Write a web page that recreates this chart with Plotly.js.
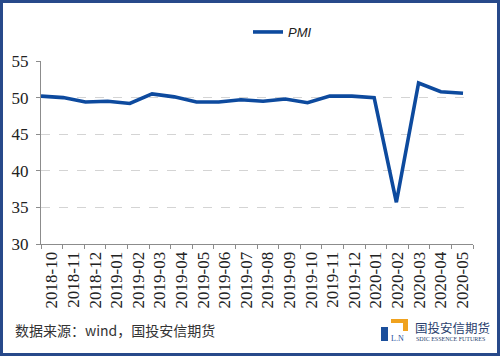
<!DOCTYPE html>
<html>
<head>
<meta charset="utf-8">
<script src="https://cdn.plot.ly/plotly-3.0.1.min.js"></script>
<style>html,body{margin:0;padding:0;background:#fff;}#chart{width:500px;height:356px;}</style>
</head>
<body>
<div id="chart"></div>
<script>
var months = ['2018-10','2018-11','2018-12','2019-01','2019-02','2019-03','2019-04','2019-05','2019-06','2019-07','2019-08','2019-09','2019-10','2019-11','2019-12','2020-01','2020-02','2020-03','2020-04','2020-05'];
var pmi = [50.2,50.0,49.4,49.5,49.2,50.5,50.1,49.4,49.4,49.7,49.5,49.8,49.3,50.2,50.2,50.0,35.7,52.0,50.8,50.6];
var yTicks = [30,35,40,45,50,55];
var seriesName = 'PMI';
var sourceText = '数据来源：wind，国投安信期货';
var logoCn = '国投安信期货';
var logoEn = 'SDIC ESSENCE FUTURES';

var L = 41, R = 473, T = 61, B = 244;
function px(x){ return (x - L) / (R - L); }
function py(y){ return (B - y) / (B - T); }
var SERIF = 'Liberation Serif';

var traces = [
  {
    x: months, y: pmi, type: 'scatter', mode: 'lines', name: seriesName,
    xaxis: 'x', yaxis: 'y',
    line: {color: '#0d4a9e', width: 3.6}, hoverinfo: 'skip'
  },
  {
    x: months, y: pmi, type: 'scatter', mode: 'lines', showlegend: false,
    xaxis: 'x2', yaxis: 'y', opacity: 0, line: {width: 0}, hoverinfo: 'skip'
  }
];

var layout = {
  width: 500, height: 356,
  margin: {l: L, r: 500 - R, t: T, b: 356 - B},
  paper_bgcolor: '#ffffff', plot_bgcolor: '#ffffff',
  showlegend: true,
  legend: {
    orientation: 'h', x: px(248), xanchor: 'left', y: py(32), yanchor: 'middle',
    font: {family: 'Liberation Sans', size: 13, color: '#222', style: 'italic'},
    bgcolor: 'rgba(0,0,0,0)'
  },
  xaxis: {
    type: 'category', range: [0, 19.45], showticklabels: false, ticks: '',
    showgrid: false, zeroline: false, showline: false, fixedrange: true
  },
  xaxis2: {
    type: 'category', overlaying: 'x', anchor: 'y', side: 'bottom',
    range: [-0.5, 19.5], tickson: 'boundaries', ticks: 'outside', ticklen: 4,
    tickcolor: '#8c8c8c', showline: true, linecolor: '#8c8c8c', linewidth: 1,
    showgrid: false, zeroline: false, tickangle: -90,
    tickfont: {family: SERIF, size: 17, color: '#222'}
  },
  yaxis: {
    range: [30, 55], tickvals: yTicks, ticks: 'outside', ticklen: 4,
    tickcolor: '#8c8c8c', showline: true, linecolor: '#8c8c8c', linewidth: 1,
    showgrid: true, gridcolor: '#d4d4d4', griddash: 'dash', gridwidth: 1,
    zeroline: false, ticklabelstandoff: 4,
    tickfont: {family: SERIF, size: 17, color: '#222'}
  },
  shapes: [
    {type: 'rect', xref: 'paper', yref: 'paper', x0: px(1.5), x1: px(498.5), y0: py(354.5), y1: py(1.5),
     line: {color: '#27498a', width: 3}, fillcolor: 'rgba(0,0,0,0)', layer: 'above'},
    {type: 'rect', xref: 'paper', yref: 'paper', x0: px(381), x1: px(388), y0: py(341), y1: py(327),
     line: {width: 0}, fillcolor: '#1b4f9c'},
    {type: 'rect', xref: 'paper', yref: 'paper', x0: px(391), x1: px(408), y0: py(323), y1: py(319),
     line: {width: 0}, fillcolor: '#f0a21e'},
    {type: 'rect', xref: 'paper', yref: 'paper', x0: px(403), x1: px(408), y0: py(331), y1: py(319),
     line: {width: 0}, fillcolor: '#f0a21e'}
  ],
  annotations: [
    {xref: 'paper', yref: 'paper', x: px(13), y: py(330), xanchor: 'left', yanchor: 'middle',
     text: sourceText, showarrow: false,
     font: {family: 'Noto Sans CJK SC', size: 14, color: '#333'}},
    {xref: 'paper', yref: 'paper', x: px(413), y: py(327), xanchor: 'left', yanchor: 'middle',
     text: logoCn, showarrow: false,
     font: {family: 'Noto Sans CJK SC', size: 12.5, color: '#2a3f6e'}},
    {xref: 'paper', yref: 'paper', x: px(414), y: py(339), xanchor: 'left', yanchor: 'middle',
     text: logoEn, showarrow: false,
     font: {family: SERIF, size: 6, color: '#2a3f6e'}},
    {xref: 'paper', yref: 'paper', x: px(389), y: py(338), xanchor: 'left', yanchor: 'middle',
     text: 'L.N', showarrow: false,
     font: {family: SERIF, size: 8, color: '#1b4f9c'}}
  ]
};

Plotly.newPlot('chart', traces, layout, {displayModeBar: false, staticPlot: true});
</script>
</body>
</html>
